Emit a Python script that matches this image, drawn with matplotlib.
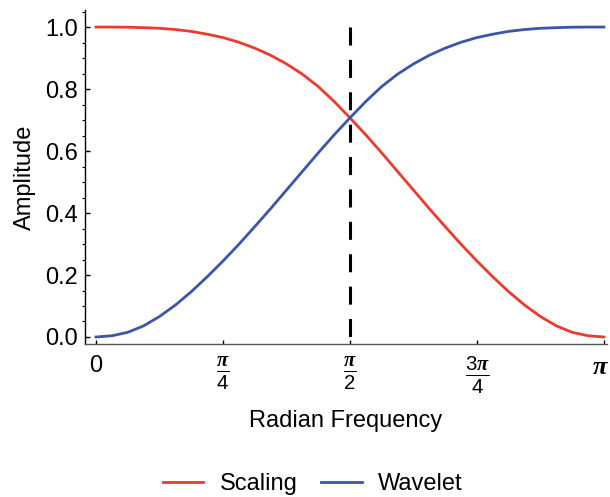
import numpy as np
import matplotlib
matplotlib.use("Agg")
import matplotlib.pyplot as plt
from matplotlib.transforms import ScaledTranslation

plt.rcParams['font.family'] = ['Liberation Sans', 'DejaVu Sans']
plt.rcParams['mathtext.fontset'] = 'custom'
plt.rcParams['mathtext.rm'] = 'Liberation Sans'
plt.rcParams['mathtext.it'] = 'Liberation Serif:italic:bold'
plt.rcParams['mathtext.bf'] = 'Liberation Serif:italic:bold'

# frequency grid (fractions of pi, step pi/32)
freq_frac = [j / 32 for j in range(33)]
scaling = [1.000, 1.000, 0.9995, 0.998, 0.996, 0.992, 0.986, 0.977, 0.966,
           0.951, 0.932, 0.909, 0.881, 0.848, 0.808, 0.760, 0.707, 0.652,
           0.594, 0.534, 0.474, 0.414, 0.356, 0.299, 0.245, 0.194, 0.146,
           0.103, 0.066, 0.036, 0.015, 0.004, 0.000]
wavelet = [0.000, 0.004, 0.015, 0.036, 0.066, 0.103, 0.146, 0.194, 0.245,
           0.299, 0.356, 0.414, 0.474, 0.534, 0.594, 0.652, 0.707, 0.760,
           0.808, 0.848, 0.881, 0.909, 0.932, 0.951, 0.966, 0.977, 0.986,
           0.992, 0.996, 0.998, 0.9995, 1.000, 1.000]
xtick_frac = [0, 0.25, 0.5, 0.75, 1.0]
xtick_labels = ['0', r'$\frac{\mathbf{\pi}}{4}$', r'$\frac{\mathbf{\pi}}{2}$',
                r'$\frac{3\mathbf{\pi}}{4}$', r'$\mathbf{\pi}$']
yticks = [0.0, 0.2, 0.4, 0.6, 0.8, 1.0]
cutoff_frac = 0.5

x = np.array(freq_frac) * np.pi
FS = 17

fig = plt.figure(figsize=(6.10, 4.97), dpi=100)
ax = fig.add_axes([85/610, 153/497, 522/610, 334/497])

red = '#EE3A2E'
blue = '#3C55A9'
ax.plot(x, scaling, color=red, lw=2.0, label='Scaling')
ax.plot(x, wavelet, color=blue, lw=2.0, label='Wavelet')
ax.plot([cutoff_frac*np.pi, cutoff_frac*np.pi], [1, 0], color='black', lw=2.2,
        linestyle=(0, (5.9, 4.7)))

ax.set_xlim(-0.068, np.pi + 0.019)
ax.set_ylim(-0.0226, 1.055)

for s in ['top', 'right']:
    ax.spines[s].set_visible(False)
ax.spines['left'].set_linewidth(1.0)
ax.spines['bottom'].set_linewidth(1.0)
ax.spines['bottom'].set_color('#555555')

ax.set_xticks(np.array(xtick_frac) * np.pi)
ax.set_xticklabels(xtick_labels)
ax.set_yticks(yticks)
ax.set_yticklabels([f'{v:.1f}' for v in yticks])
ax.set_yticks(np.arange(0, 1.06, 0.05), minor=True)
ax.tick_params(axis='both', direction='in', labelsize=FS, width=1.0, color='black')
ax.tick_params(axis='y', which='major', length=3.5, pad=5)
ax.tick_params(axis='y', which='minor', length=2.0, width=0.8)
ax.tick_params(axis='x', which='major', length=3.2, pad=8)
xl = ax.get_xticklabels()
for i in (1, 2, 3):
    xl[i].set_fontsize(21)
xl[4].set_fontsize(19)
xl[4].set_transform(xl[4].get_transform() + ScaledTranslation(-3/100, 0, fig.dpi_scale_trans))

ax.set_ylabel('Amplitude', fontsize=FS, labelpad=7)
ax.set_xlabel('Radian Frequency', fontsize=FS, labelpad=10)

fig.legend(loc='center', bbox_to_anchor=(313/610, 13/497), ncol=2, frameon=False,
           fontsize=FS, handlelength=1.7, handletextpad=0.7, columnspacing=1.0)

fig.savefig('out.png', dpi=100)
